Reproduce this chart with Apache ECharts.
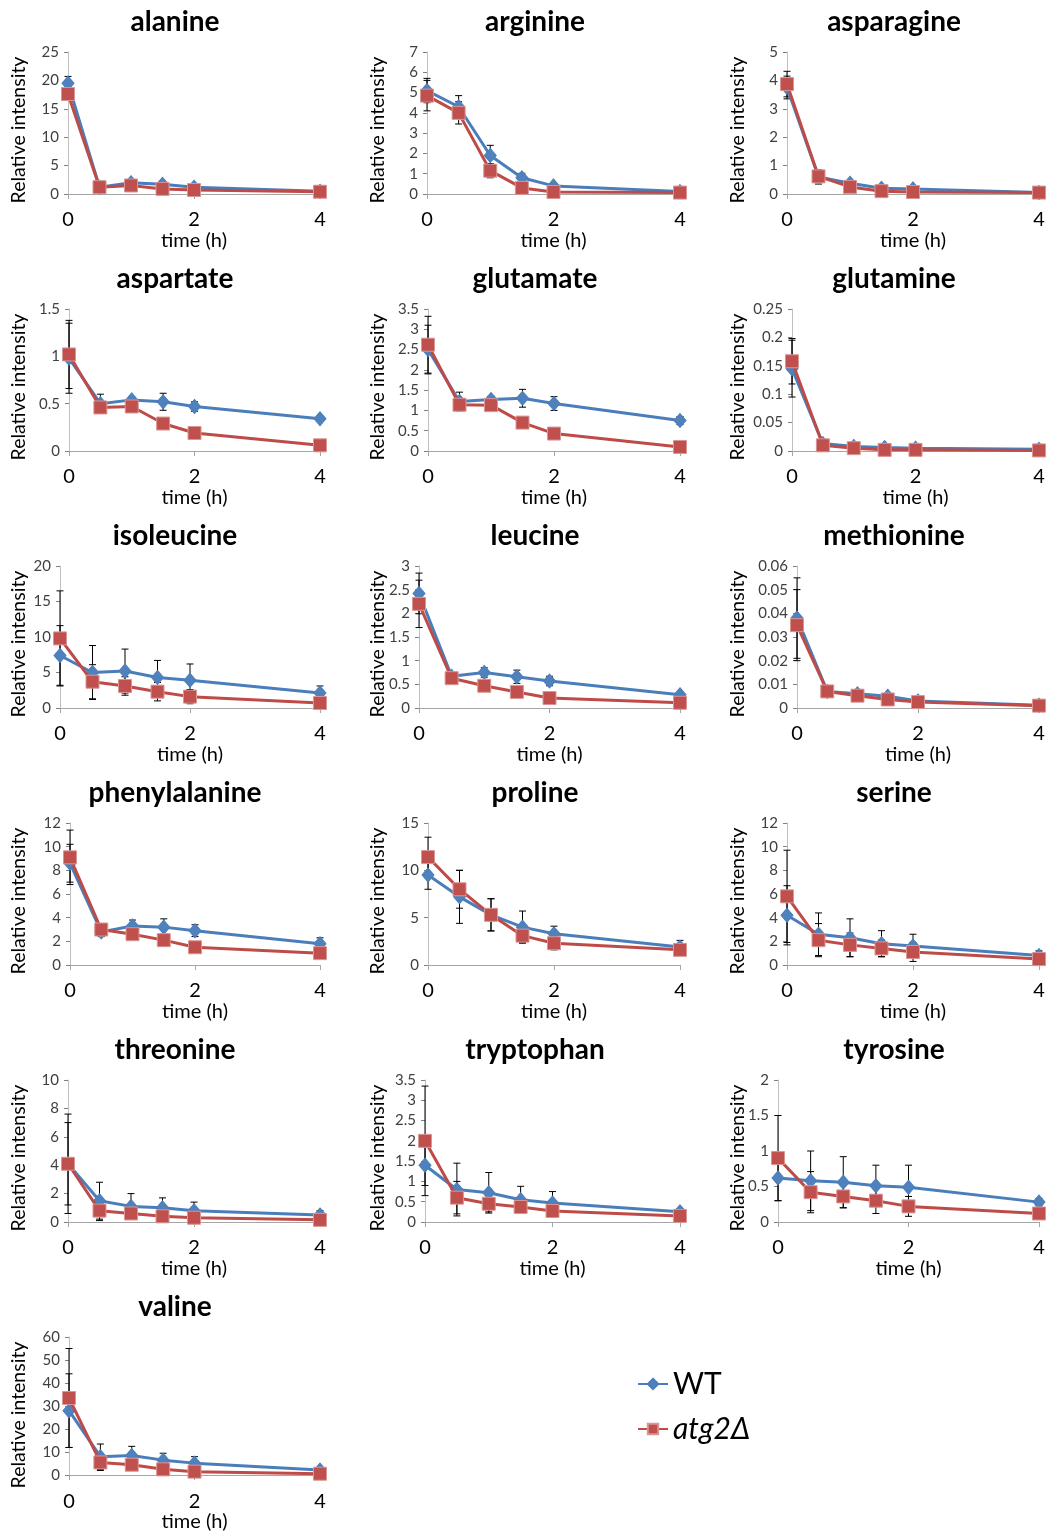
<!DOCTYPE html>
<html><head><meta charset="utf-8">
<script src="https://cdn.jsdelivr.net/npm/echarts@6/dist/echarts.min.js"></script>
<style>html,body{margin:0;background:#fff}#c{width:1048px;height:1533px}</style>
</head><body><div id="c"></div>
<script>
// ---- data ----
const times = [0, 0.5, 1, 1.5, 2, 4];
const xTickLabels = [0, 2, 4];
const seriesNames = ['WT', 'atg2Δ'];
const aminoAcids = ['alanine','arginine','asparagine','aspartate','glutamate','glutamine','isoleucine','leucine','methionine','phenylalanine','proline','serine','threonine','tryptophan','tyrosine','valine'];
const yMax  = [25, 7, 5, 1.5, 3.5, 0.25, 20, 3, 0.06, 12, 15, 12, 10, 3.5, 2, 60];
const yStep = [5, 1, 1, 0.5, 0.5, 0.05, 5, 0.5, 0.01, 2, 5, 2, 2, 0.5, 0.5, 10];

const alanineWT = [19.5,1.2,2.0,1.7,1.2,0.5],   alanineWTErr = [1.2,0.3,0.4,0.3,0.3,0.2];
const alanineAtg = [17.6,1.2,1.5,0.9,0.7,0.4],  alanineAtgErr = [1.0,0.3,0.3,0.2,0.2,0.1];
const arginineWT = [5.1,4.3,1.9,0.8,0.4,0.12],  arginineWTErr = [0.6,0.55,0.5,0.22,0.1,0.05];
const arginineAtg = [4.85,4.0,1.15,0.3,0.1,0.07], arginineAtgErr = [0.75,0.55,0.35,0.1,0.05,0.03];
const asparagineWT = [3.75,0.6,0.38,0.2,0.18,0.05], asparagineWTErr = [0.4,0.25,0.1,0.06,0.06,0.02];
const asparagineAtg = [3.87,0.62,0.25,0.1,0.07,0.05], asparagineAtgErr = [0.45,0.2,0.08,0.04,0.03,0.02];
const aspartateWT = [0.98,0.50,0.54,0.52,0.47,0.34], aspartateWTErr = [0.37,0.1,0.03,0.09,0.05,0.02];
const aspartateAtg = [1.02,0.46,0.47,0.29,0.19,0.06], aspartateAtgErr = [0.36,0.06,0.04,0.02,0.02,0.01];
const glutamateWT = [2.5,1.22,1.27,1.3,1.17,0.75], glutamateWTErr = [0.6,0.23,0.08,0.22,0.17,0.1];
const glutamateAtg = [2.62,1.14,1.13,0.7,0.43,0.1], glutamateAtgErr = [0.7,0.1,0.05,0.05,0.04,0.02];
const glutamineWT = [0.145,0.013,0.008,0.006,0.005,0.003], glutamineWTErr = [0.05,0.003,0.002,0.002,0.001,0.001];
const glutamineAtg = [0.158,0.01,0.005,0.002,0.002,0.001], glutamineAtgErr = [0.04,0.003,0.002,0.001,0.001,0.0005];
const isoleucineWT = [7.4,5.0,5.2,4.3,3.9,2.1], isoleucineWTErr = [4.2,3.8,3.1,2.4,2.3,1.0];
const isoleucineAtg = [9.8,3.7,3.1,2.3,1.6,0.7], isoleucineAtgErr = [6.7,2.4,1.3,1.3,1.0,0.3];
const leucineWT = [2.42,0.67,0.75,0.66,0.57,0.28], leucineWTErr = [0.43,0.05,0.1,0.14,0.1,0.03];
const leucineAtg = [2.2,0.63,0.47,0.34,0.21,0.11], leucineAtgErr = [0.5,0.04,0.03,0.03,0.02,0.01];
const methionineWT = [0.038,0.007,0.006,0.005,0.003,0.0012], methionineWTErr = [0.017,0.001,0.001,0.001,0.0005,0.0003];
const methionineAtg = [0.035,0.007,0.0052,0.0036,0.0025,0.001], methionineAtgErr = [0.015,0.001,0.001,0.0008,0.0004,0.0002];
const phenylalanineWT = [8.6,2.8,3.3,3.2,2.9,1.8], phenylalanineWTErr = [1.6,0.4,0.5,0.7,0.5,0.5];
const phenylalanineAtg = [9.1,3.0,2.6,2.1,1.5,1.0], phenylalanineAtgErr = [2.3,0.5,0.3,0.5,0.2,0.1];
const prolineWT = [9.5,7.2,5.3,4.0,3.3,1.9], prolineWTErr = [1.5,2.8,1.7,1.7,0.8,0.7];
const prolineAtg = [11.4,8.0,5.3,3.1,2.3,1.6], prolineAtgErr = [2.1,2.0,1.7,0.7,0.7,0.3];
const serineWT = [4.2,2.6,2.3,1.8,1.6,0.8], serineWTErr = [2.5,1.8,1.6,1.1,1.0,0.4];
const serineAtg = [5.8,2.1,1.7,1.4,1.1,0.5], serineAtgErr = [3.9,1.4,1.0,0.7,0.8,0.2];
const threonineWT = [4.1,1.5,1.1,1.0,0.8,0.5], threonineWTErr = [3.5,1.3,0.9,0.7,0.6,0.3];
const threonineAtg = [4.1,0.8,0.6,0.4,0.3,0.15], threonineAtgErr = [2.9,0.7,0.4,0.3,0.25,0.1];
const tryptophanWT = [1.4,0.8,0.72,0.55,0.47,0.25], tryptophanWTErr = [0.5,0.65,0.5,0.33,0.28,0.08];
const tryptophanAtg = [2.0,0.6,0.45,0.37,0.27,0.15], tryptophanAtgErr = [1.35,0.4,0.2,0.15,0.1,0.05];
const tyrosineWT = [0.62,0.58,0.56,0.51,0.49,0.28], tyrosineWTErr = [0.32,0.42,0.36,0.29,0.31,0.05];
const tyrosineAtg = [0.9,0.42,0.36,0.3,0.22,0.12], tyrosineAtgErr = [0.6,0.29,0.16,0.18,0.14,0.04];
const valineWT = [28,8,8.5,6.5,5.2,2.2], valineWTErr = [16,5.5,4,3,2.8,1];
const valineAtg = [33.5,5.5,4.5,2.5,1.5,0.6], valineAtgErr = [21.5,3.5,2,1,0.8,0.3];

const panelData = [
  [alanineWT, alanineWTErr, alanineAtg, alanineAtgErr],
  [arginineWT, arginineWTErr, arginineAtg, arginineAtgErr],
  [asparagineWT, asparagineWTErr, asparagineAtg, asparagineAtgErr],
  [aspartateWT, aspartateWTErr, aspartateAtg, aspartateAtgErr],
  [glutamateWT, glutamateWTErr, glutamateAtg, glutamateAtgErr],
  [glutamineWT, glutamineWTErr, glutamineAtg, glutamineAtgErr],
  [isoleucineWT, isoleucineWTErr, isoleucineAtg, isoleucineAtgErr],
  [leucineWT, leucineWTErr, leucineAtg, leucineAtgErr],
  [methionineWT, methionineWTErr, methionineAtg, methionineAtgErr],
  [phenylalanineWT, phenylalanineWTErr, phenylalanineAtg, phenylalanineAtgErr],
  [prolineWT, prolineWTErr, prolineAtg, prolineAtgErr],
  [serineWT, serineWTErr, serineAtg, serineAtgErr],
  [threonineWT, threonineWTErr, threonineAtg, threonineAtgErr],
  [tryptophanWT, tryptophanWTErr, tryptophanAtg, tryptophanAtgErr],
  [tyrosineWT, tyrosineWTErr, tyrosineAtg, tyrosineAtgErr],
  [valineWT, valineWTErr, valineAtg, valineAtgErr]
];

// ---- layout ----
const FONT = 'Lato, "Open Sans", sans-serif';
const axisX = [68,427,787, 69,428,792, 60,419,797, 70,428,787, 68,425,778, 69];
const rightX = [320, 680, 1039];
const titleX = [175, 535, 894];
const yNameX = [19, 378, 738];
const BLUE = '#4A7EBB', BLUE_M = '#4F81BD', RED = '#BE4B48', RED_M = '#C0504D';

const grids = [], xAxes = [], yAxes = [], series = [], graphics = [];

function errRender(params, api) {
  const x = api.value(0), lo = api.value(1), hi = api.value(2);
  const top = api.coord([x, hi]);
  const bot = api.coord([x, Math.max(lo, 0)]);
  const s = {stroke:'#000', lineWidth:1};
  const children = [
    {type:'line', shape:{x1:top[0], y1:top[1], x2:bot[0], y2:bot[1]}, style:s},
    {type:'line', shape:{x1:top[0]-3.5, y1:top[1], x2:top[0]+3.5, y2:top[1]}, style:s}
  ];
  if (lo >= 0) children.push({type:'line', shape:{x1:bot[0]-3.5, y1:bot[1], x2:bot[0]+3.5, y2:bot[1]}, style:s});
  return {type:'group', children};
}

aminoAcids.forEach((name, k) => {
  const r = Math.floor(k / 3), c = k % 3;
  const top = 52 + 257 * r;
  grids.push({left: axisX[k], top: top, width: rightX[c] - axisX[k], height: 142, containLabel: false});
  xAxes.push({
    gridIndex: k, type: 'value', min: 0, max: 4, interval: 2,
    name: 'time (h)', nameLocation: 'middle', nameGap: 33,
    nameTextStyle: {fontFamily: FONT, fontSize: 20, color: '#000'},
    axisLine: {lineStyle: {color: '#A6A6A6', width: 1}},
    axisTick: {show: true, length: 5, lineStyle: {color: '#A6A6A6'}},
    axisLabel: {fontFamily: FONT, fontSize: 20, color: '#000', margin: 16,
      formatter: v => xTickLabels.includes(v) ? String(v) : ''},
    splitLine: {show: false}
  });
  yAxes.push({
    gridIndex: k, type: 'value', min: 0, max: yMax[k], interval: yStep[k],
    axisLine: {show: true, lineStyle: {color: '#BFBFBF', width: 1}},
    axisTick: {show: true, length: 4, lineStyle: {color: '#808080'}},
    axisLabel: {fontFamily: FONT, fontSize: 15, color: '#404040', margin: 9},
    splitLine: {show: false}
  });
  const [wt, wtErr, atg, atgErr] = panelData[k];
  series.push({
    type: 'custom', xAxisIndex: k, yAxisIndex: k, z: 1, silent: true,
    renderItem: errRender, encode: {x: 0, y: [1, 2]},
    data: times.map((t, i) => [t, wt[i] - wtErr[i], wt[i] + wtErr[i]])
  });
  series.push({
    type: 'custom', xAxisIndex: k, yAxisIndex: k, z: 1, silent: true,
    renderItem: errRender, encode: {x: 0, y: [1, 2]},
    data: times.map((t, i) => [t, atg[i] - atgErr[i], atg[i] + atgErr[i]])
  });
  series.push({
    name: seriesNames[0], type: 'line', xAxisIndex: k, yAxisIndex: k, z: 2,
    data: times.map((t, i) => [t, wt[i]]),
    symbol: 'diamond', symbolSize: [12, 14], showAllSymbol: true,
    lineStyle: {color: BLUE, width: 3}, itemStyle: {color: BLUE_M, borderColor: BLUE, borderWidth: 1},
    animation: false
  });
  series.push({
    name: seriesNames[1], type: 'line', xAxisIndex: k, yAxisIndex: k, z: 3,
    data: times.map((t, i) => [t, atg[i]]),
    symbol: 'rect', symbolSize: 13, showAllSymbol: true,
    lineStyle: {color: RED, width: 3}, itemStyle: {color: RED_M, borderColor: '#D99694', borderWidth: 1},
    animation: false
  });
  graphics.push({type: 'text', x: titleX[c], y: 22 + 257 * r,
    style: {text: name, font: 'bold 28px ' + FONT, fill: '#000', textAlign: 'center', textVerticalAlign: 'middle'}});
  graphics.push({type: 'text', x: yNameX[c], y: top + 78, rotation: Math.PI / 2,
    style: {text: 'Relative intensity', font: '19.5px ' + FONT, fill: '#000', textAlign: 'center', textVerticalAlign: 'middle'}});
});

const chart = echarts.init(document.getElementById('c'), null, {renderer: 'canvas'});
chart.setOption({
  animation: false,
  backgroundColor: '#fff',
  grid: grids, xAxis: xAxes, yAxis: yAxes, series: series,
  graphic: graphics,
  legend: {
    data: seriesNames, orient: 'vertical', left: 637, top: 1369, padding: 0,
    itemWidth: 30, itemHeight: 13, itemGap: 15,
    textStyle: {fontFamily: FONT, fontSize: 30, color: '#000',
      rich: {i: {fontFamily: FONT, fontSize: 30, fontStyle: 'italic', color: '#000'}}},
    formatter: n => n === 'WT' ? n : '{i|' + n + '}'
  }
});
</script></body></html>
